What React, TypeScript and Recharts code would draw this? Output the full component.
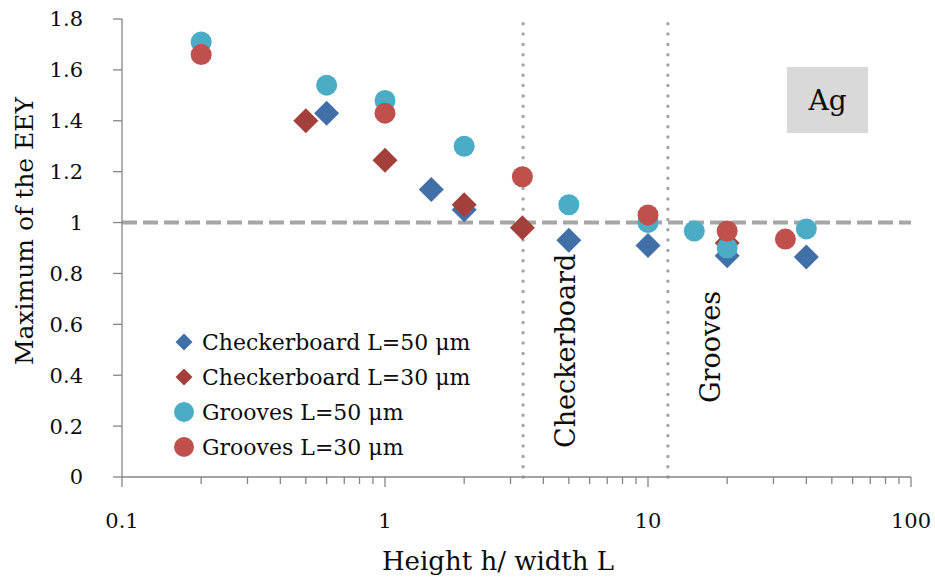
import { ScatterChart, Scatter, XAxis, YAxis, ReferenceLine, Legend } from "recharts";

const checker50X = [0.6, 1.5, 2, 5, 10, 20, 40];
const checker50Y = [1.43, 1.13, 1.05, 0.93, 0.91, 0.87, 0.865];
const checker30X = [0.5, 1, 2, 3.33, 20];
const checker30Y = [1.4, 1.245, 1.07, 0.98, 0.92];
const grooves50X = [0.2, 0.6, 1, 2, 5, 10, 15, 20, 40];
const grooves50Y = [1.71, 1.54, 1.48, 1.3, 1.07, 1.0, 0.967, 0.9, 0.975];
const grooves30X = [0.2, 1, 3.33, 10, 20, 33.3];
const grooves30Y = [1.66, 1.43, 1.18, 1.03, 0.967, 0.935];

const seriesNames = ["Checkerboard L=50 μm", "Checkerboard L=30 μm", "Grooves L=50 μm", "Grooves L=30 μm"];
const seriesColors = ["#4170A9", "#A4403B", "#4BACC6", "#C0504D"];
const seriesShapes = ["diamond", "diamond", "circle", "circle"];

const xMajorTicks = [0.1, 1, 10, 100];
const xTickLabels = ["0.1", "1", "10", "100"];
const xAllTicks = [
  0.1, 0.2, 0.3, 0.4, 0.5, 0.6, 0.7, 0.8, 0.9,
  1, 2, 3, 4, 5, 6, 7, 8, 9,
  10, 20, 30, 40, 50, 60, 70, 80, 90, 100,
];
const yTicks = [0, 0.2, 0.4, 0.6, 0.8, 1, 1.2, 1.4, 1.6, 1.8];
const yTickLabels = ["0", "0.2", "0.4", "0.6", "0.8", "1", "1.2", "1.4", "1.6", "1.8"];

const regimeBounds = [3.35, 11.9];
const regimeLabels = ["Checkerboard", "Grooves"];
const materialLabel = "Ag";

const FONT = "'DejaVu Serif', serif";
const AXIS = "#868686";
const TEXT = "#0d0d0d";
const REF = "#a6a6a6";

const toPoints = (xs: number[], ys: number[]) => xs.map((x, i) => ({ x, y: ys[i] }));
const seriesData = [
  toPoints(checker50X, checker50Y),
  toPoints(checker30X, checker30Y),
  toPoints(grooves50X, grooves50Y),
  toPoints(grooves30X, grooves30Y),
];

function Marker({ cx, cy, kind, color, size }: any) {
  if (kind === "diamond") {
    return <polygon points={`${cx},${cy - size} ${cx + size},${cy} ${cx},${cy + size} ${cx - size},${cy}`} fill={color} />;
  }
  return <circle cx={cx} cy={cy} r={size} fill={color} />;
}

function XTick({ x, y, payload }: any) {
  const i = xMajorTicks.indexOf(payload.value);
  const major = i >= 0;
  return (
    <g>
      <line x1={x} x2={x} y1={y} y2={y + (major ? 10 : 7)} stroke={AXIS} strokeWidth={1.3} />
      {major && (
        <text x={x} y={y + 51} textAnchor="middle" fontFamily={FONT} fontSize={21} fill={TEXT}>
          {xTickLabels[i]}
        </text>
      )}
    </g>
  );
}

function LegendBox() {
  return (
    <svg width={320} height={150}>
      {seriesNames.map((name, i) => {
        const cy = 20 + i * 35;
        return (
          <g key={name}>
            <Marker cx={14} cy={cy} kind={seriesShapes[i]} color={seriesColors[i]} size={seriesShapes[i] === "diamond" ? 8.5 : 10} />
            <text x={32} y={cy + 8} fontFamily={FONT} fontSize={22} fill={TEXT}>{name}</text>
          </g>
        );
      })}
    </svg>
  );
}

// start offset (from plot bottom) of the rotated regime labels
const regimeLabelOffsets = [29, 74];

function regimeLabel(i: number) {
  return ({ viewBox }: any) => {
    const bx = viewBox.x + 52;
    const by = viewBox.y + viewBox.height - regimeLabelOffsets[i];
    return (
      <text x={bx} y={by} transform={`rotate(-90, ${bx}, ${by})`} fontFamily={FONT} fontSize={27} fill={TEXT}>
        {regimeLabels[i]}
      </text>
    );
  };
}

export default function App() {
  return (
    <div style={{ position: "absolute", left: 0, top: 0, width: 935, height: 583, background: "#fff" }}>
      <ScatterChart width={935} height={583} margin={{ top: 19, right: 24, bottom: 0, left: 0 }}>
        <XAxis
          dataKey="x"
          type="number"
          scale="log"
          domain={[0.1, 100]}
          ticks={xAllTicks}
          interval={0}
          height={106}
          stroke={AXIS}
          strokeWidth={1.3}
          tickLine={false}
          tickSize={0}
          tickMargin={0}
          tick={<XTick />}
          label={{
            content: ({ viewBox }: any) => (
              <text x={viewBox.x + 376} y={viewBox.y + 93} textAnchor="middle" fontFamily={FONT} fontSize={26} fill={TEXT}>
                Height h/ width L
              </text>
            ),
          }}
        />
        <YAxis
          dataKey="y"
          type="number"
          domain={[0, 1.8]}
          ticks={yTicks}
          interval={0}
          width={122}
          stroke={AXIS}
          strokeWidth={1.3}
          tickSize={9}
          tickMargin={30}
          tick={{ fontFamily: FONT, fontSize: 21, fill: TEXT }}
          tickFormatter={(v: number) => yTickLabels[yTicks.indexOf(v)] ?? String(v)}
          label={{
            content: () => (
              <text x={33} y={231} transform="rotate(-90, 33, 231)" textAnchor="middle" fontFamily={FONT} fontSize={25} fill={TEXT}>
                Maximum of the EEY
              </text>
            ),
          }}
        />
        <ReferenceLine y={1} stroke={REF} strokeWidth={4} strokeDasharray="15 6" />
        {regimeBounds.map((b, i) => (
          <ReferenceLine
            key={b}
            x={b}
            stroke={REF}
            strokeWidth={3.5}
            strokeLinecap="round"
            strokeDasharray="0 10.3"
            label={{ content: regimeLabel(i) }}
          />
        ))}
        {seriesData.map((data, i) => (
          <Scatter
            key={seriesNames[i]}
            name={seriesNames[i]}
            data={data}
            fill={seriesColors[i]}
            isAnimationActive={false}
            shape={(p: any) => (
              <Marker cx={p.cx} cy={p.cy} kind={seriesShapes[i]} color={seriesColors[i]} size={seriesShapes[i] === "diamond" ? 12.5 : 10.5} />
            )}
          />
        ))}
        <Legend
          layout="vertical"
          align="center"
          verticalAlign="middle"
          wrapperStyle={{ left: 170, top: 322, width: 320, height: 150 }}
          content={() => <LegendBox />}
        />
      </ScatterChart>
      <div
        style={{
          position: "absolute",
          left: 787,
          top: 67,
          width: 81,
          height: 66,
          background: "#d9d9d9",
          display: "flex",
          alignItems: "center",
          justifyContent: "center",
          fontFamily: FONT,
          fontSize: 28,
          color: TEXT,
        }}
      >
        {materialLabel}
      </div>
    </div>
  );
}
